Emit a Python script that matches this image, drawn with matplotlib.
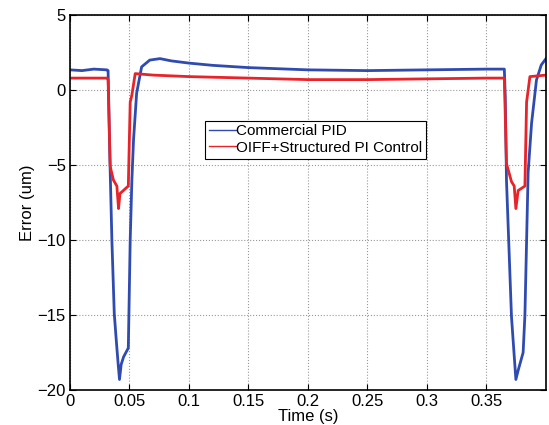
import matplotlib
matplotlib.use("Agg")
import matplotlib.pyplot as plt

plt.rcParams["font.family"] = ["Liberation Sans", "DejaVu Sans"]

# Commercial PID
pid_t = [0.000, 0.010, 0.020, 0.031, 0.032, 0.0335, 0.0352, 0.0372, 0.0389, 0.0405,
         0.0416, 0.0430, 0.0450, 0.0490, 0.0506, 0.0520, 0.0534, 0.0560, 0.0602, 0.067,
         0.0756, 0.085, 0.10, 0.12, 0.15, 0.20, 0.25, 0.30, 0.35, 0.3650,
         0.3658, 0.3668, 0.3710, 0.3724, 0.3747, 0.3766, 0.3808, 0.3823, 0.3850, 0.3879,
         0.3920, 0.3960, 0.4000]
pid_err = [1.35, 1.30, 1.40, 1.35, 1.30, -4.5, -10.0, -14.9, -16.7, -18.3,
           -19.3, -18.3, -17.8, -17.2, -10.0, -6.0, -3.3, -0.2, 1.55, 2.0,
           2.1, 1.95, 1.8, 1.65, 1.5, 1.35, 1.3, 1.35, 1.4, 1.4,
           -0.5, -6.0, -15.1, -16.7, -19.3, -18.7, -17.5, -15.0, -5.5, -2.2,
           0.67, 1.67, 2.1]

# OIFF + Structured PI
pi_t = [0.000, 0.031, 0.032, 0.0338, 0.0365, 0.0394, 0.0408, 0.0420, 0.0476, 0.0490,
        0.0506, 0.0520, 0.0548, 0.070, 0.10, 0.15, 0.20, 0.25, 0.30, 0.35,
        0.365, 0.3668, 0.3710, 0.3733, 0.3747, 0.3766, 0.3823, 0.3837, 0.3865, 0.400]
pi_err = [0.8, 0.8, 0.7, -5.1, -6.0, -6.4, -7.9, -6.9, -6.5, -6.4,
          -0.8, -0.33, 1.1, 1.0, 0.9, 0.8, 0.7, 0.7, 0.75, 0.8,
          0.8, -4.9, -6.1, -6.4, -7.9, -6.7, -6.4, -0.8, 0.9, 1.0]

xticks = [0, 0.05, 0.1, 0.15, 0.2, 0.25, 0.3, 0.35]
xtick_labels = ["0", "0.05", "0.1", "0.15", "0.2", "0.25", "0.3", "0.35"]
yticks = [-20, -15, -10, -5, 0, 5]

fig = plt.figure(figsize=(5.49, 4.25), dpi=100)
ax = fig.add_axes([0.1275, 0.0824, 0.867, 0.882])

ax.plot(pid_t, pid_err, color="#2f4bb0", linewidth=2.0, label="Commercial PID")
ax.plot(pi_t, pi_err, color="#e8232a", linewidth=2.0, label="OIFF+Structured PI Control")

ax.set_xlim(0, 0.4)
ax.set_ylim(-20, 5)
ax.set_xticks(xticks)
ax.set_xticklabels(xtick_labels)
ax.set_yticks(yticks)
ax.tick_params(direction="in", top=True, right=True, labelsize=12, length=4, pad=3)
ax.grid(True, linestyle=":", color="#999999", linewidth=0.8)
for s in ax.spines.values():
    s.set_linewidth(1.2)

ax.set_xlabel("Time (s)", fontsize=12, labelpad=0)
ax.set_ylabel("Error (um)", fontsize=12, labelpad=2)

leg = ax.legend(loc="upper left", bbox_to_anchor=(0.267, 0.739), fontsize=11,
                handlelength=1.8, handletextpad=0.0, borderpad=0.25, labelspacing=0.15,
                fancybox=False, framealpha=1, edgecolor="black")
leg.get_frame().set_linewidth(0.8)
for line in leg.get_lines():
    line.set_linewidth(1.0)

fig.savefig("out.png", dpi=100)
